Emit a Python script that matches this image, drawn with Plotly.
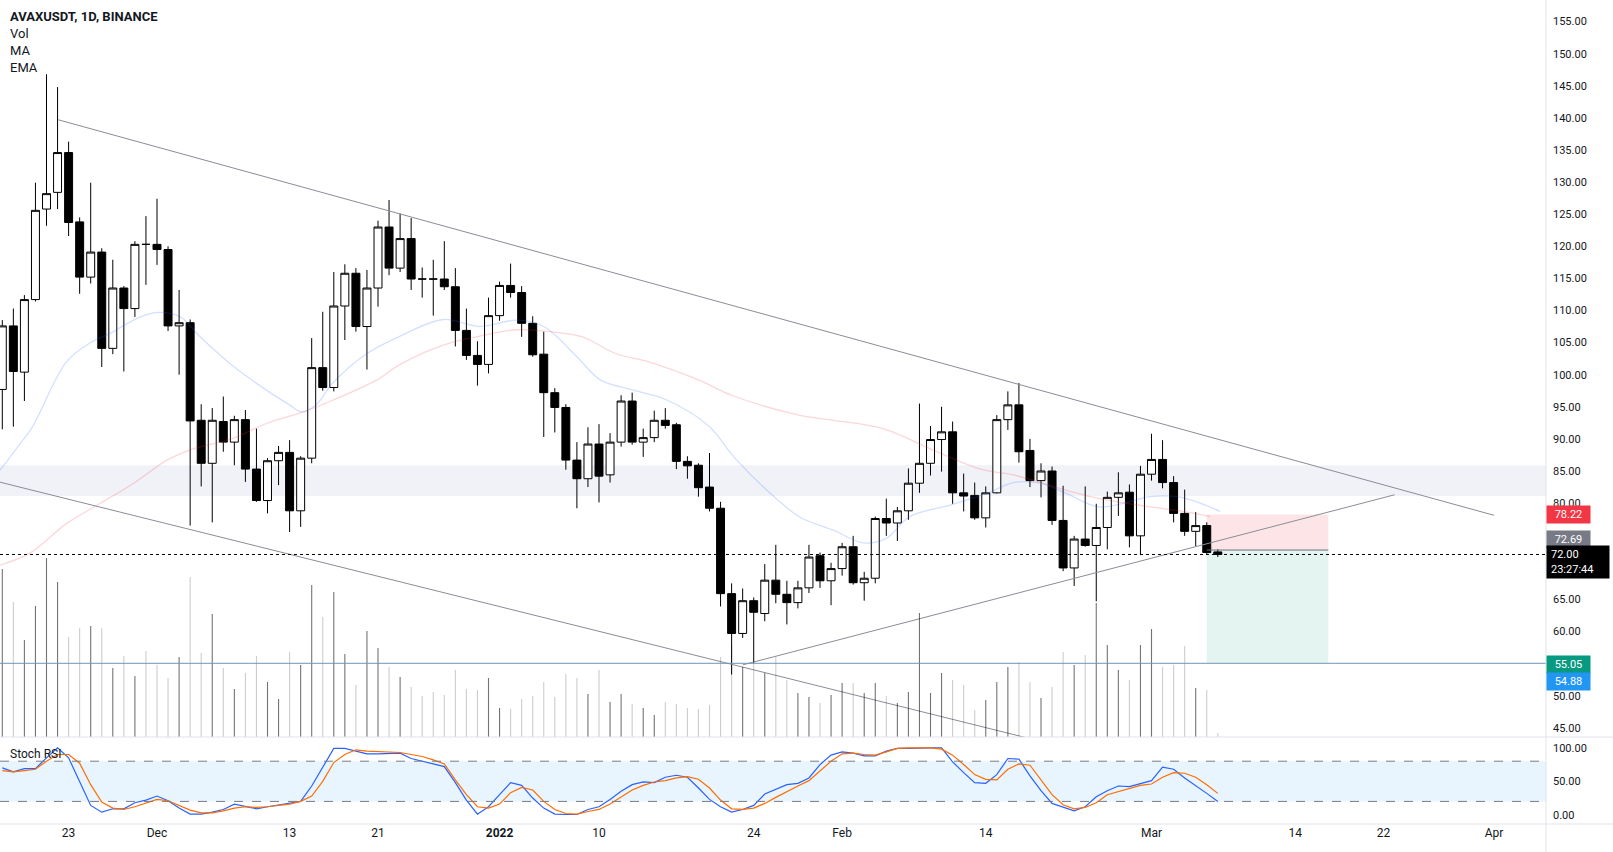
import pandas as pd
import plotly.graph_objects as go

# ---------------- data ----------------
dates = pd.date_range("2021-11-17", "2022-03-07", freq="D")

opens = [97.7, 107.6, 100.4, 111.7, 125.8, 128.4, 134.6, 123.8, 115.2, 119.1,
         104.1, 113.5, 110.3, 120.3, 120.3, 119.5, 107.6, 108.1, 92.9, 86.2,
         92.7, 89.5, 93.0, 85.3, 80.4, 86.6, 87.9, 78.8, 87.0, 101.1,
         98.0, 110.7, 115.8, 107.5, 113.5, 123.0, 116.6, 121.2, 114.9, 114.9,
         114.9, 113.7, 106.9, 103.0, 101.6, 109.2, 113.9, 112.8, 108.0, 103.2,
         97.2, 94.9, 86.7, 83.8, 89.2, 84.4, 89.5, 95.9, 89.5, 90.2,
         92.9, 92.2, 86.5, 85.9, 82.5, 79.2, 65.9, 59.7, 64.8, 62.8,
         68.0, 65.8, 64.5, 66.8, 71.8, 67.9, 69.8, 73.2, 67.6, 68.3,
         77.6, 76.9, 78.8, 83.1, 86.2, 89.9, 91.1, 81.6, 81.2, 77.7,
         81.6, 93.0, 95.3, 88.2, 83.5, 85.0, 77.3, 69.9, 74.4, 73.4,
         76.2, 80.9, 81.7, 74.9, 84.5, 86.8, 83.2, 78.4, 75.6, 76.5,
         72.4]
highs = [108.5, 110.3, 112.4, 129.9, 146.8, 144.8, 136.3, 124.5, 129.9, 119.7,
         117.9, 113.8, 120.8, 124.7, 127.4, 120.0, 113.2, 108.6, 95.4, 94.8,
         96.6, 93.6, 94.5, 91.6, 87.0, 88.9, 89.8, 87.3, 105.7, 109.8,
         116.0, 117.2, 116.6, 116.3, 124.0, 127.2, 125.1, 124.4, 116.7, 117.9,
         120.8, 116.6, 110.3, 105.2, 112.0, 114.5, 117.3, 113.8, 109.1, 106.7,
         97.9, 95.4, 89.5, 91.8, 92.3, 90.9, 96.8, 97.2, 91.6, 94.4,
         94.8, 92.5, 87.3, 86.2, 87.8, 80.2, 67.5, 66.7, 65.3, 70.5,
         73.5, 67.9, 67.9, 73.5, 72.3, 70.7, 73.8, 74.9, 69.3, 77.9,
         80.7, 79.4, 85.4, 95.5, 92.0, 95.0, 92.7, 84.6, 83.2, 82.6,
         93.7, 97.4, 98.7, 90.0, 86.2, 85.7, 82.7, 74.9, 82.6, 79.9,
         81.8, 84.8, 82.9, 85.8, 90.8, 89.8, 84.2, 82.1, 78.6, 77.0,
         72.8]
lows = [91.5, 91.9, 95.9, 111.4, 123.2, 125.8, 121.6, 112.6, 114.2, 101.2,
        103.2, 100.5, 109.0, 114.0, 117.1, 106.8, 100.0, 76.5, 82.6, 77.0,
        88.0, 85.9, 83.3, 80.2, 78.4, 82.8, 75.5, 76.3, 86.2, 97.5,
        97.4, 105.4, 106.7, 100.8, 110.6, 115.5, 116.0, 113.2, 112.0, 109.2,
        113.2, 104.4, 102.3, 98.3, 100.2, 108.4, 112.0, 105.9, 102.8, 90.3,
        91.0, 85.2, 79.2, 82.5, 80.1, 83.2, 88.8, 89.1, 87.2, 89.5,
        91.6, 85.3, 83.8, 81.0, 78.7, 63.9, 53.3, 59.0, 55.1, 61.6,
        64.4, 61.1, 63.6, 66.0, 66.8, 64.1, 68.7, 67.3, 64.8, 67.5,
        74.9, 74.1, 77.4, 81.6, 84.3, 84.9, 79.9, 78.7, 77.4, 76.2,
        81.5, 91.4, 86.3, 82.5, 80.9, 76.6, 69.4, 67.1, 73.2, 64.7,
        72.8, 78.0, 73.1, 71.9, 83.5, 82.3, 77.0, 74.9, 73.3, 72.0,
        71.6]
closes = [107.6, 100.5, 111.7, 125.6, 128.2, 134.6, 123.7, 115.2, 119.1, 104.1,
          113.5, 110.3, 120.3, 120.3, 119.5, 107.6, 108.1, 92.8, 86.2, 92.9,
          89.5, 93.0, 85.3, 80.4, 86.6, 87.9, 78.8, 87.0, 101.1, 98.0,
          110.7, 115.8, 107.5, 113.5, 123.0, 116.6, 121.2, 114.9, 114.9, 114.9,
          113.7, 106.9, 103.0, 101.6, 109.2, 113.9, 112.8, 108.0, 103.1, 97.2,
          94.9, 86.7, 83.8, 89.2, 84.2, 89.5, 95.9, 89.5, 90.2, 92.9,
          92.1, 86.5, 85.8, 82.4, 79.2, 65.9, 59.7, 64.8, 63.0, 68.0,
          65.8, 64.5, 66.8, 71.6, 67.9, 69.8, 73.2, 67.6, 68.3, 77.6,
          76.9, 78.8, 83.1, 86.2, 89.9, 91.1, 81.6, 81.1, 77.7, 81.6,
          93.0, 95.3, 88.0, 83.5, 85.0, 77.3, 69.9, 74.4, 73.4, 76.2,
          80.9, 81.6, 74.9, 84.5, 86.8, 83.2, 78.4, 75.6, 76.5, 72.3,
          72.0]
volume_m = [16.8, 13.5, 9.7, 13.1, 17.9, 15.5, 10.0, 10.9, 11.1, 10.9,
            6.9, 8.1, 6.1, 8.6, 7.2, 5.9, 8.0, 16.0, 8.4, 12.3,
            6.9, 4.8, 6.4, 8.1, 5.5, 3.8, 8.5, 7.2, 15.2, 12.0,
            14.5, 8.3, 5.2, 10.6, 8.9, 7.0, 6.0, 5.0, 4.1, 4.5,
            4.2, 6.7, 4.8, 4.7, 5.9, 2.9, 2.8, 3.8, 4.1, 5.5,
            4.0, 6.3, 5.9, 4.3, 6.7, 3.5, 4.3, 3.3, 2.9, 2.2,
            3.5, 3.3, 2.9, 2.8, 3.2, 8.0, 9.2, 7.0, 7.7, 6.4,
            8.0, 5.7, 4.4, 4.0, 3.4, 4.2, 5.4, 5.4, 4.4, 5.4,
            4.1, 3.4, 4.5, 12.4, 4.4, 6.4, 5.7, 5.2, 2.7, 3.7,
            5.5, 7.0, 7.5, 5.5, 3.9, 5.0, 8.5, 7.2, 8.2, 13.4,
            9.2, 6.7, 5.7, 9.2, 10.8, 7.0, 7.2, 9.1, 4.9, 4.7,
            0.4]
stoch_k = [70, 64, 69, 69, 85, 100, 85, 50, 14, 4,
           9, 9, 18, 22, 28, 21, 10, 1, 1, 4,
           8, 16, 12, 9, 12, 15, 17, 20, 43, 72,
           99, 99, 95, 91, 91, 92, 92, 84, 80, 76,
           72, 48, 22, 1, 12, 30, 48, 44, 25, 10,
           1, 0.5, 0.5, 8, 12, 23, 35, 45, 49, 48,
           56, 59, 56, 40, 23, 12, 4, 8, 14, 31,
           38, 45, 47, 55, 75, 89, 94, 92, 88, 88,
           95, 99, 99, 100, 100, 100, 79, 63, 48, 47,
           60, 84, 83, 58, 36, 17, 11, 6, 12, 27,
           36, 43, 42, 46, 51, 71, 68, 55, 44, 32,
           20]
stoch_d = [66, 64, 66, 68, 80, 90, 90, 77, 45, 19,
           10, 8, 12, 18, 23, 21, 14, 7, 3, 3,
           6, 10, 12, 11, 12, 14, 16, 20, 28, 50,
           78, 90, 97, 95, 94, 93, 93, 90, 87, 82,
           76, 52, 30, 12, 10, 16, 33, 41, 37, 20,
           8, 2, 1, 5, 8, 16, 27, 37, 44, 49,
           51, 55, 57, 53, 40, 22, 9, 8, 10, 17,
           26, 35, 43, 51, 66, 80, 91, 92, 90, 89,
           94, 99, 100, 100, 100, 98, 89, 75, 60, 53,
           52, 68, 76, 74, 52, 30, 15, 9, 11, 18,
           30, 35, 40, 44, 46, 56, 63, 62, 56, 45,
           32]
# moving averages read as (day offset from 2021-11-17, value)
ma_day = [-0.3, 1.5, 2.7, 5.8, 7.9, 9.7, 12.5, 14.1, 16.1, 17.9, 20.9, 23.9, 26.0, 27.1,
          28.4, 29.9, 33.0, 36.0, 39.9, 43.2, 46.6, 49.0, 52.0, 54.1, 57.1, 60.1, 64.0,
          66.2, 69.2, 72.2, 75.2, 77.9, 80.0, 82.1, 85.8, 89.1, 91.5, 93.9, 96.3, 99.3,
          103.9, 106.3, 108.4, 110.2]
ma_val = [84.9, 89.0, 91.8, 102.0, 104.9, 106.4, 109.0, 109.7, 109.0, 105.9, 101.3, 97.6, 95.3, 94.2,
          95.3, 98.7, 103.3, 106.0, 108.6, 107.5, 108.5, 107.5, 102.8, 99.2, 97.6, 96.1, 91.9,
          87.2, 82.0, 77.8, 75.8, 73.8, 74.5, 77.9, 79.7, 81.5, 83.2, 83.1, 81.5, 79.4,
          81.0, 81.0, 80.0, 78.7]
ema_day = [-0.3, 2.5, 5.8, 8.8, 11.9, 14.9, 17.0, 20.9, 23.9, 26.9, 30.0, 33.9, 36.0, 39.9,
           42.9, 46.6, 49.5, 52.5, 55.5, 58.5, 63.0, 66.0, 72.1, 75.2, 79.7, 84.2, 88.7,
           91.5, 96.3, 99.3, 103.9, 106.9, 109.3]
ema_val = [70.3, 72.2, 76.8, 79.9, 83.1, 86.7, 88.3, 90.1, 92.4, 94.0, 96.1, 99.2, 101.6, 104.6,
           105.9, 107.0, 106.7, 105.9, 103.3, 102.0, 99.2, 96.8, 93.7, 92.9, 91.6, 88.3, 85.2,
           84.4, 82.0, 80.7, 79.4, 78.7, 77.9]
# drawn trend lines: (day offset, price)
tl_upper = [(5.07, 139.7), (135.0, 78.1)]
tl_lower = [(-0.3, 83.3), (93.5, 43.1)]
tl_rising = [(67.0, 54.8), (126.0, 81.3)]
zone_low, zone_high = 81.1, 85.9
hline_level = 55.05
last_price = 72.00
entry, stop, target = 72.69, 78.22, 55.05
pos_start, pos_end = "2022-03-06", "2022-03-17"
tick_dates = ["2021-11-23", "2021-12-01", "2021-12-13", "2021-12-21", "2022-01-01", "2022-01-10",
              "2022-01-24", "2022-02-01", "2022-02-14", "2022-03-01", "2022-03-14", "2022-03-22",
              "2022-04-01"]
tick_text = ["23", "Dec", "13", "21", "<b>2022</b>", "10", "24", "Feb", "14", "Mar", "14", "22", "Apr"]
price_ticks = [45, 50, 60, 65, 80, 85, 90, 95, 100, 105, 110, 115, 120, 125, 130, 135, 140, 145, 150, 155]

# ---------------- figure ----------------
base = pd.Timestamp("2021-11-17")
day = pd.Timedelta(days=1)
def d(off):
    return base + off * day

TXT = "#131722"
FONT = "Roboto"
split = 87 / 824.0  # boundary between the price pane and the Stoch RSI pane

fig = go.Figure()

vol_colors = ["rgba(0,0,0,0.55)" if c > o else "rgba(0,0,0,0.2)" for o, c in zip(opens, closes)]
fig.add_trace(go.Bar(x=dates, y=volume_m, width=86400000 * 0.1, marker=dict(color=vol_colors, line=dict(width=0)),
                     xaxis="x", yaxis="y3", hoverinfo="skip", showlegend=False))

fig.add_trace(go.Scatter(x=[d(v) for v in ema_day], y=ema_val, mode="lines",
                         line=dict(color="rgba(242,54,69,0.2)", width=1.3, shape="spline"),
                         hoverinfo="skip", showlegend=False))
fig.add_trace(go.Scatter(x=[d(v) for v in ma_day], y=ma_val, mode="lines",
                         line=dict(color="rgba(41,98,255,0.2)", width=1.3, shape="spline"),
                         hoverinfo="skip", showlegend=False))

for seg in (tl_upper, tl_lower, tl_rising):
    fig.add_trace(go.Scatter(x=[d(seg[0][0]), d(seg[1][0])], y=[seg[0][1], seg[1][1]], mode="lines",
                             line=dict(color="#8a8d96", width=1), hoverinfo="skip", showlegend=False))

fig.add_trace(go.Candlestick(x=dates, open=opens, high=highs, low=lows, close=closes,
                             increasing=dict(line=dict(color="#000000", width=1), fillcolor="#ffffff"),
                             decreasing=dict(line=dict(color="#000000", width=1), fillcolor="#000000"),
                             whiskerwidth=0, showlegend=False))

fig.add_trace(go.Scatter(x=dates, y=stoch_k, mode="lines", line=dict(color="#2962FF", width=1.2),
                         xaxis="x", yaxis="y2", showlegend=False))
fig.add_trace(go.Scatter(x=dates, y=stoch_d, mode="lines", line=dict(color="#FF6D00", width=1.2),
                         xaxis="x", yaxis="y2", showlegend=False))

shapes = [
    dict(type="rect", xref="paper", yref="y", x0=0, x1=1, y0=zone_low, y1=zone_high,
         fillcolor="rgba(209,212,230,0.3)", line=dict(width=0), layer="below"),
    dict(type="rect", xref="x", yref="y", x0=pos_start, x1=pos_end, y0=entry, y1=stop,
         fillcolor="rgba(242,54,69,0.13)", line=dict(width=0), layer="below"),
    dict(type="rect", xref="x", yref="y", x0=pos_start, x1=pos_end, y0=target, y1=entry,
         fillcolor="rgba(8,153,129,0.11)", line=dict(width=0), layer="below"),
    dict(type="line", xref="x", yref="y", x0=pos_start, x1=pos_end, y0=entry, y1=entry,
         line=dict(color="#6a6d78", width=1)),
    dict(type="line", xref="paper", yref="y", x0=0, x1=1, y0=hline_level, y1=hline_level,
         line=dict(color="#6f93b8", width=1)),
    dict(type="line", xref="paper", yref="y", x0=0, x1=1, y0=last_price, y1=last_price,
         line=dict(color="#000000", width=1, dash="dot")),
    # stoch band
    dict(type="rect", xref="paper", yref="y2", x0=0, x1=1, y0=20, y1=80,
         fillcolor="rgba(33,150,243,0.1)", line=dict(width=0), layer="below"),
    dict(type="line", xref="paper", yref="y2", x0=0, x1=1, y0=80, y1=80,
         line=dict(color="#787B86", width=1, dash="dash")),
    dict(type="line", xref="paper", yref="y2", x0=0, x1=1, y0=20, y1=20,
         line=dict(color="#787B86", width=1, dash="dash")),
    # pane borders
    dict(type="line", xref="paper", yref="paper", x0=0, x1=1613 / 1546, y0=split, y1=split,
         line=dict(color="#e0e3eb", width=1)),
    dict(type="line", xref="paper", yref="paper", x0=0, x1=1613 / 1546, y0=0, y1=0,
         line=dict(color="#e0e3eb", width=1)),
    dict(type="line", xref="paper", yref="paper", x0=1, x1=1, y0=-28 / 824, y1=1,
         line=dict(color="#e0e3eb", width=1)),
]

annotations = [
    dict(xref="paper", yref="paper", x=8 / 1546, y=1 - 16.5 / 824, text="<b>AVAXUSDT, 1D, BINANCE</b>",
         showarrow=False, xanchor="left", yanchor="middle", font=dict(size=13, color=TXT, family=FONT)),
    dict(xref="paper", yref="paper", x=8 / 1546, y=1 - 33.5 / 824, text="Vol",
         showarrow=False, xanchor="left", yanchor="middle", font=dict(size=13, color=TXT, family=FONT)),
    dict(xref="paper", yref="paper", x=8 / 1546, y=1 - 50.5 / 824, text="MA",
         showarrow=False, xanchor="left", yanchor="middle", font=dict(size=13, color=TXT, family=FONT)),
    dict(xref="paper", yref="paper", x=8 / 1546, y=1 - 67.5 / 824, text="EMA",
         showarrow=False, xanchor="left", yanchor="middle", font=dict(size=13, color=TXT, family=FONT)),
    dict(xref="paper", yref="paper", x=8 / 1546, y=1 - 754 / 824, text="Stoch RSI",
         showarrow=False, xanchor="left", yanchor="middle", font=dict(size=12, color=TXT, family=FONT)),
]

def price_label(val, color, yshift=0, text=None, width=41, height=15, align="center"):
    return dict(xref="paper", yref="y", x=1, y=val, text=text or f"{val:.2f}", showarrow=False,
                xanchor="left", yanchor="middle", yshift=yshift, bgcolor=color, borderpad=1,
                width=width, height=height, align=align,
                font=dict(size=11, color="#ffffff", family=FONT))

annotations += [
    price_label(stop, "#F23645"),
    price_label(entry, "#787B86", yshift=11),
    dict(xref="paper", yref="y", x=1, y=last_price, text="72.00<br>23:27:44", showarrow=False,
         xanchor="left", yanchor="middle", yshift=-8, bgcolor="#000000", borderpad=4, width=54,
         height=24, align="left", font=dict(size=11, color="#ffffff", family=FONT)),
    price_label(target, "#089981", yshift=-1),
    price_label(54.88, "#2196F3", yshift=-17),
]

xr0 = base - pd.Timedelta(days=0.208)
xr1 = base + pd.Timedelta(days=139.7)

fig.update_layout(
    width=1613, height=852,
    margin=dict(l=0, r=67, t=0, b=28),
    paper_bgcolor="#ffffff", plot_bgcolor="#ffffff",
    showlegend=False, hovermode=False,
    boxgap=0.1, boxgroupgap=0.2,
    font=dict(family=FONT, color=TXT),
    xaxis=dict(type="date", range=[xr0, xr1], anchor="y2", domain=[0, 1],
               tickvals=tick_dates, ticktext=tick_text, showgrid=False, zeroline=False,
               showline=False, ticks="", tickfont=dict(size=12, color=TXT, family=FONT),
               rangeslider=dict(visible=False), fixedrange=True),
    yaxis=dict(domain=[split, 1], range=[43.57, 158.36], side="right", anchor="x",
               tickvals=price_ticks, tickformat=".2f", showgrid=False, zeroline=False, ticks="",
               ticklabelstandoff=6, tickfont=dict(size=11, color=TXT, family=FONT), fixedrange=True),
    yaxis2=dict(domain=[0, split], range=[-13.7, 116.1], side="right", anchor="x",
                tickvals=[0, 50, 100], tickformat=".2f", showgrid=False, zeroline=False, ticks="",
                ticklabelstandoff=6, tickfont=dict(size=11, color=TXT, family=FONT), fixedrange=True),
    yaxis3=dict(overlaying="y", range=[0, 73.7], visible=False, fixedrange=True),
    shapes=shapes, annotations=annotations,
)

fig.write_html("out.html", config={"displayModeBar": False, "staticPlot": True},
               post_script="document.body.style.margin='0px';")
